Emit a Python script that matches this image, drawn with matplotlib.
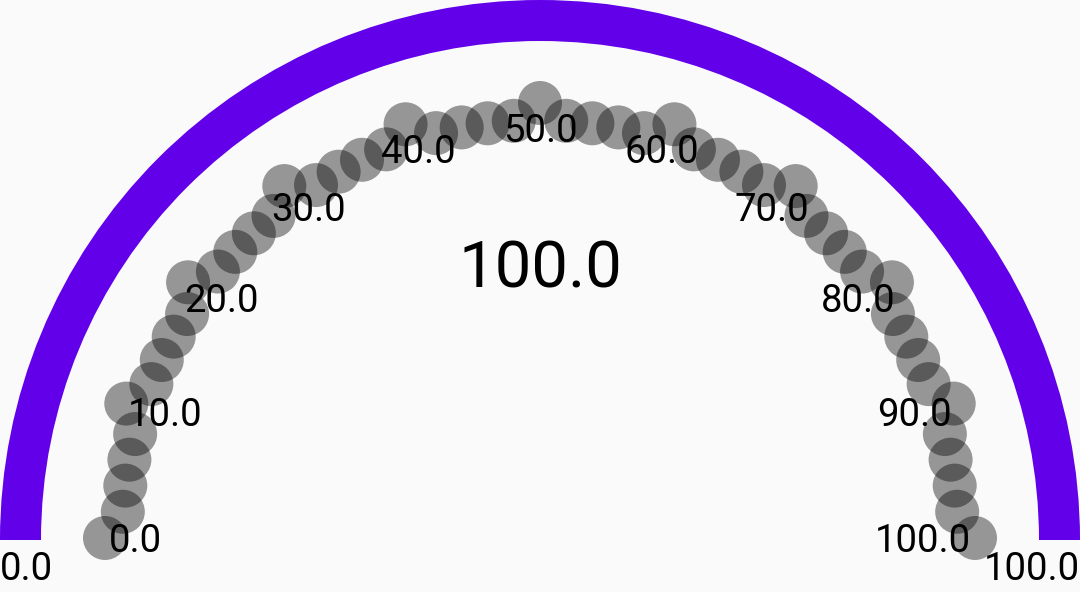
import numpy as np
import matplotlib
matplotlib.use("Agg")
import matplotlib.pyplot as plt
from matplotlib.patches import Wedge, Circle

plt.rcParams['font.family'] = ['Roboto', 'DejaVu Sans']

# Gauge data
gauge_min = 0.0
gauge_max = 100.0
gauge_value = 100.0
major_ticks = [0, 10, 20, 30, 40, 50, 60, 70, 80, 90, 100]
minor_step = 2
tick_labels = ["0.0", "10.0", "20.0", "30.0", "40.0", "50.0",
               "60.0", "70.0", "80.0", "90.0", "100.0"]

BG = "#fafafa"
BAND = "#6200ea"

W, H = 1080, 592
fig = plt.figure(figsize=(W / 100, H / 100), dpi=100, facecolor=BG)
ax = fig.add_axes([0, 0, 1, 1])
ax.set_xlim(0, W)
ax.set_ylim(0, H)
ax.axis("off")
ax.set_facecolor(BG)

cx, cy = 540, 52
r_out, band_w = 540, 41
r_major, r_minor, r_dot = 435, 418, 22
r_label, line_h = 431, 42


def angle_of(v):
    # 0 -> 180 deg (left), max -> 0 deg (right)
    return np.radians(180 - 180 * (v - gauge_min) / (gauge_max - gauge_min))


# band
ax.add_patch(Wedge((cx, cy), r_out, 0, 180, width=band_w, facecolor=BAND,
                   edgecolor="none"))

# tick dots
minor_vals = np.arange(gauge_min, gauge_max + 0.001, minor_step)
for v in minor_vals:
    r = r_major if v in major_ticks else r_minor
    a = angle_of(v)
    ax.add_patch(Circle((cx + r * np.cos(a), cy + 2 + r * np.sin(a)), r_dot,
                        facecolor="black", alpha=0.4, edgecolor="none"))

# tick labels, pushed inward by half their box
renderer = fig.canvas.get_renderer()
for v, lab in zip(major_ticks, tick_labels):
    a = angle_of(v)
    t = ax.text(0, 0, lab, fontsize=27.5, ha="center", va="center_baseline",
                color="black")
    w = t.get_window_extent(renderer=renderer).width
    x = cx + r_label * np.cos(a) - w / 2 * np.cos(a)
    y = cy + 2 + r_label * np.sin(a) - line_h / 2 * np.sin(a)
    t.set_position((x, y))

# min / max labels under the band ends
ax.text(cx - r_out, 12, f"{gauge_min:.1f}", fontsize=27.5, ha="left",
        va="baseline")
ax.text(cx + r_out, 12, f"{gauge_max:.1f}", fontsize=27.5, ha="right",
        va="baseline")

# current value
ax.text(cx, H - 287, f"{gauge_value:.1f}", fontsize=47, ha="center",
        va="baseline")

fig.savefig("out.png", dpi=100, facecolor=BG)
